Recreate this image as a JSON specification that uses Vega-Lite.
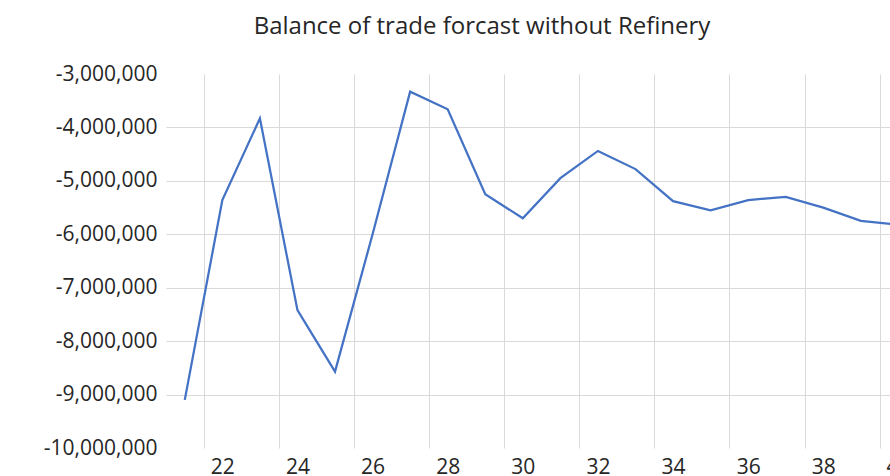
{
  "$schema": "https://vega.github.io/schema/vega-lite/v6.json",
  "width": 724,
  "height": 374,
  "autosize": {"type": "none"},
  "padding": {"left": 166, "top": 74, "right": 0, "bottom": 28},
  "background": "white",
  "config": {"view": {"stroke": null}},
  "title": {
    "text": "Balance of trade forcast without Refinery",
    "font": "Open Sans",
    "fontSize": 24,
    "fontWeight": "normal",
    "color": "#262626",
    "anchor": "middle",
    "frame": "group",
    "dx": -46,
    "offset": 24
  },
  "data": {
    "values": [
      {"year": 21, "balance": -9100000},
      {"year": 22, "balance": -5360000},
      {"year": 23, "balance": -3830000},
      {"year": 24, "balance": -7420000},
      {"year": 25, "balance": -8570000},
      {"year": 26, "balance": -6000000},
      {"year": 27, "balance": -3330000},
      {"year": 28, "balance": -3660000},
      {"year": 29, "balance": -5250000},
      {"year": 30, "balance": -5700000},
      {"year": 31, "balance": -4950000},
      {"year": 32, "balance": -4440000},
      {"year": 33, "balance": -4780000},
      {"year": 34, "balance": -5380000},
      {"year": 35, "balance": -5550000},
      {"year": 36, "balance": -5360000},
      {"year": 37, "balance": -5300000},
      {"year": 38, "balance": -5500000},
      {"year": 39, "balance": -5750000},
      {"year": 40, "balance": -5820000}
    ]
  },
  "encoding": {
    "x": {
      "field": "year",
      "type": "quantitative",
      "scale": {"domain": [20.5, 39.776], "nice": false, "zero": false},
      "axis": {
        "values": [21.5, 22, 23.5, 24, 25.5, 26, 27.5, 28, 29.5, 30, 31.5, 32, 33.5, 34, 35.5, 36, 37.5, 38, 39.5],
        "format": "d",
        "labelExpr": "datum.value % 1 == 0 ? datum.label : ''",
        "grid": true,
        "gridColor": "#D9D9D9",
        "gridWidth": 1,
        "gridOpacity": {"condition": {"test": "datum.value % 1 != 0", "value": 1}, "value": 0},
        "ticks": false,
        "domain": false,
        "title": null,
        "labelFont": "Open Sans",
        "labelFontSize": 21,
        "labelColor": "#262626",
        "labelPadding": 8,
        "labelOverlap": false,
        "labelFlush": false,
        "labelBound": false
      }
    },
    "y": {
      "field": "balance",
      "type": "quantitative",
      "scale": {"domain": [-10000000, -3000000], "nice": false, "zero": false},
      "axis": {
        "values": [-10000000, -9000000, -8000000, -7000000, -6000000, -5000000, -4000000, -3000000],
        "labelExpr": "'-' + format(abs(datum.value), ',')",
        "grid": true,
        "gridColor": "#D9D9D9",
        "gridWidth": 1,
        "gridOpacity": {"condition": {"test": "datum.value >= -3000000 || datum.value <= -10000000", "value": 0}, "value": 1},
        "ticks": false,
        "domain": false,
        "title": null,
        "labelFont": "Open Sans",
        "labelFontSize": 21,
        "labelColor": "#262626",
        "labelPadding": 9,
        "labelBaseline": "middle",
        "labelDy": -3,
        "labelOverlap": false,
        "labelFlush": false,
        "labelBound": false
      }
    }
  },
  "layer": [
    {
      "mark": {"type": "line", "color": "#4472C4", "strokeWidth": 2.25, "clip": true}
    },
    {
      "transform": [{"filter": "datum.year == 40"}],
      "mark": {
        "type": "text",
        "baseline": "top",
        "align": "center",
        "dy": 8,
        "font": "Open Sans",
        "fontSize": 21,
        "color": "#262626",
        "clip": false
      },
      "encoding": {
        "y": {"datum": -10000000, "type": "quantitative"},
        "text": {"field": "year", "type": "quantitative", "format": "d"}
      }
    }
  ]
}
